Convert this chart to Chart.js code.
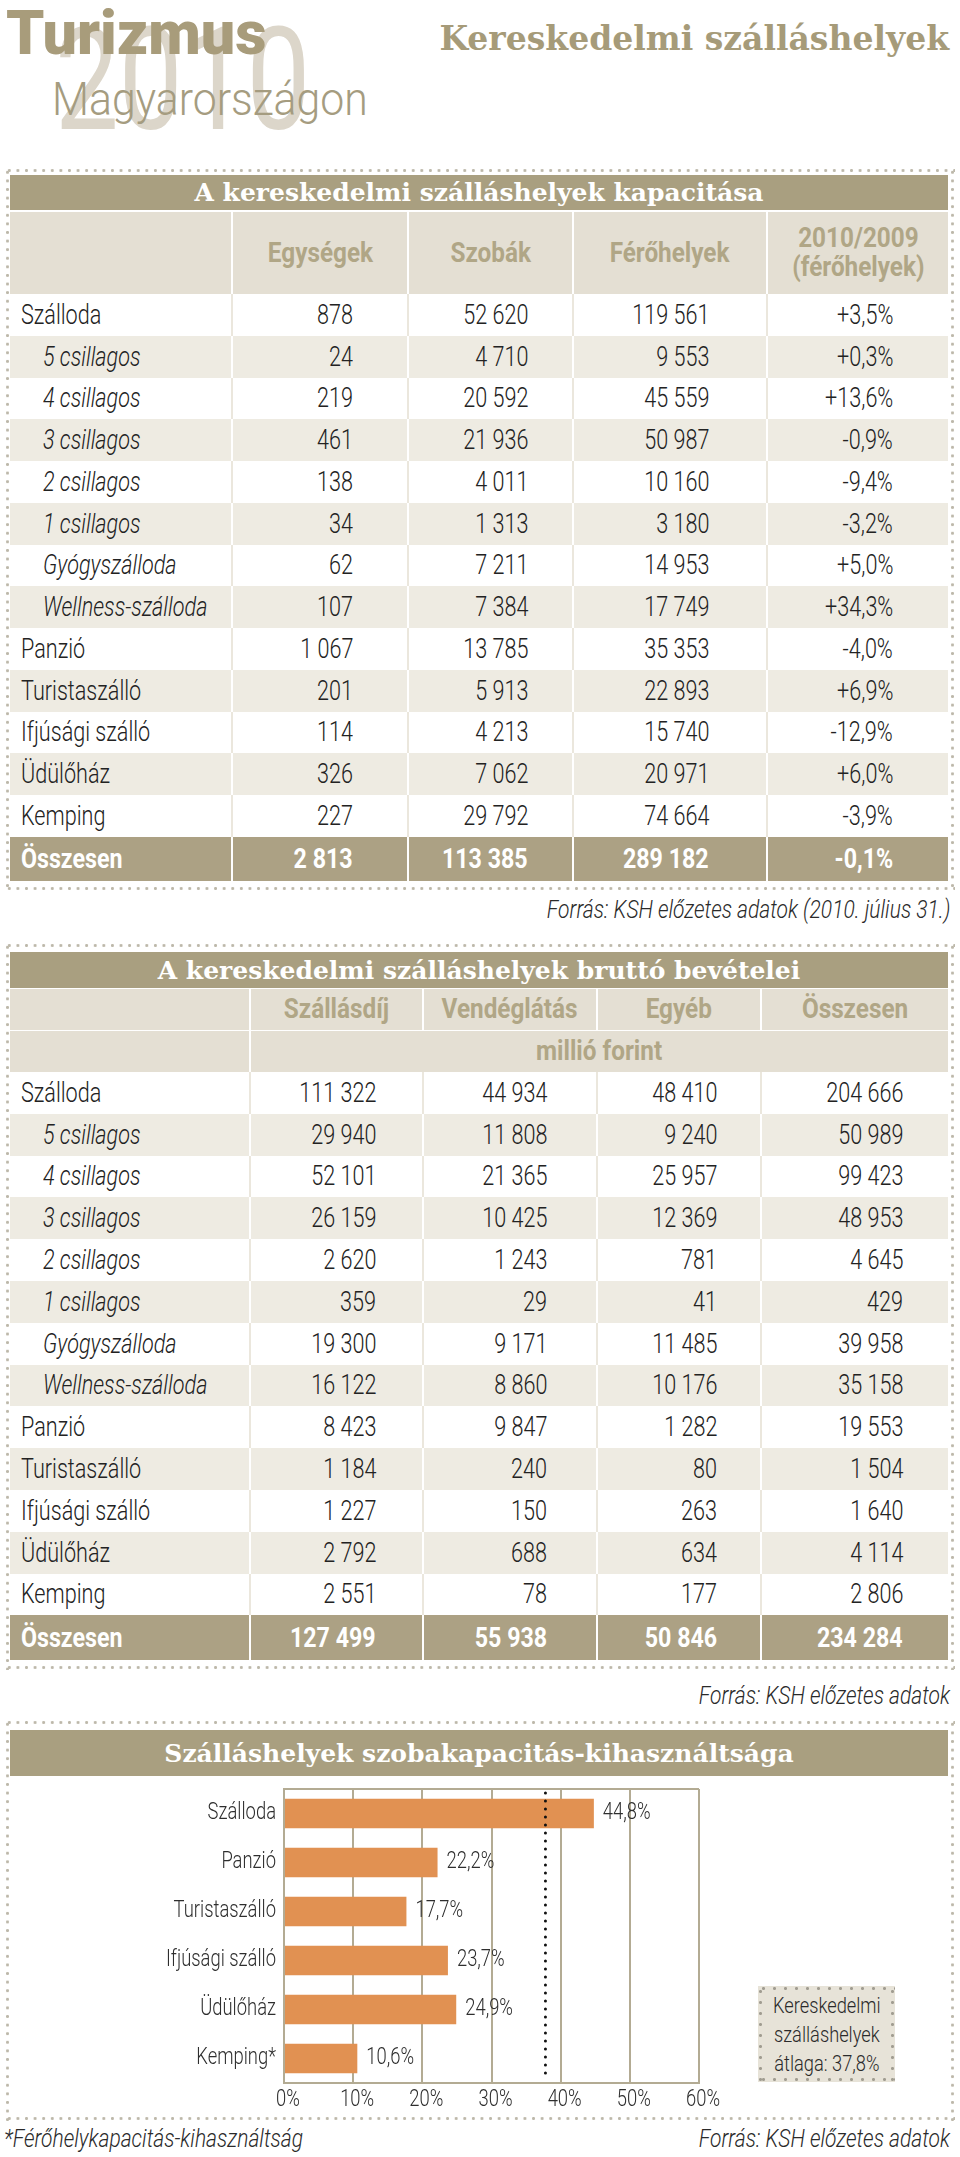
<!DOCTYPE html>
<html lang="hu">
<head>
<meta charset="utf-8">
<title>Turizmus 2010 – Kereskedelmi szálláshelyek</title>
<script src="https://cdn.jsdelivr.net/npm/chart.js@4.4.1/dist/chart.umd.min.js"></script>
<style>
  html, body { margin: 0; padding: 0; background: #fff; }
  body {
    width: 960px; height: 2157px; position: relative; overflow: hidden;
    font-family: Roboto, "Liberation Sans", sans-serif; font-weight: 300;
    color: #222;
  }
  .abs { position: absolute; white-space: nowrap; }
  .n { display: inline-block; transform-origin: var(--o, left) center; transform: scaleX(var(--sx, 0.8)); }
  .dots {
    position: absolute;
    --c: #bdb8aa; --s: 8.6px;
    background:
      radial-gradient(circle, var(--c) 1.2px, transparent 1.8px) left top / var(--s) 5px repeat-x,
      radial-gradient(circle, var(--c) 1.2px, transparent 1.8px) left bottom / var(--s) 5px repeat-x,
      radial-gradient(circle, var(--c) 1.2px, transparent 1.8px) left top / 5px var(--s) repeat-y,
      radial-gradient(circle, var(--c) 1.2px, transparent 1.8px) right top / 5px var(--s) repeat-y;
  }
  .band {
    position: absolute; left: 10px; width: 938px;
    background: #a99f80; color: #fff;
    font-family: "DejaVu Serif", serif; font-weight: bold; font-size: 25px;
    display: flex; align-items: center; justify-content: center;
  }
  .row { position: absolute; left: 10px; width: 938px; }
  .cell {
    position: absolute; top: 0; bottom: 0; box-sizing: border-box;
    display: flex; align-items: center; font-size: 27px; white-space: nowrap;
  }
  .cell.num { justify-content: flex-end; --o: right; }
  .cell + .cell { border-left: 2px solid var(--sep); }
  .r-white { background: #fff; --sep: #ebe7dd; }
  .r-beige { background: #eeebe2; --sep: #fff; }
  .r-total { background: #aca184; --sep: #fff; color: #fff; font-weight: bold; --sx: 0.86; }
  .r-head { background: #e4dfd3; --sep: #fff; color: #b0a686; font-weight: bold; --sx: 0.9; font-size: 26px; }
  .r-head .cell { justify-content: center; text-align: center; line-height: 29px; --o: center; }
  .forras { font-style: italic; font-size: 25px; color: #2a2a2a; --sx: 0.84; }
  #atlagDoboz {
    position: absolute; left: 758px; top: 1986px; width: 137px; height: 96px;
    background-color: #e7e3d8;
    --c: #a19d91; --s: 11px;
    display: flex; align-items: center; justify-content: center; text-align: center;
    font-size: 22px; line-height: 29px; color: #2a2a2a;
  }
</style>
</head>
<body>

<!-- fejléc -->
<div class="abs" style="left:55px; top:10px; font-weight:400; font-size:142px; line-height:1; color:#dcd6ca;"><span class="n" style="--sx:0.8">2010</span></div>
<div class="abs" style="left:6px; top:3px; font-weight:900; font-size:61px; line-height:1; color:#a89c7b;">Turizmus</div>
<div class="abs" style="left:52px; top:76px; font-size:46px; line-height:1; color:#a59c80;"><span class="n" style="--sx:0.93">Magyarországon</span></div>
<div class="abs" style="right:11px; top:22px; font-family:'DejaVu Serif',serif; font-weight:bold; font-size:33px; line-height:1; color:#a69b79;">Kereskedelmi szálláshelyek</div>

<div class="dots" style="left:4.5px; top:167.5px; width:950px; height:723px;"></div>
<div class="band" style="top:175px; height:35px;">A kereskedelmi szálláshelyek kapacitása</div>
<div class="abs forras" style="right:10px; top:895px; --o:right;"><span class="n">Forrás: KSH előzetes adatok (2010. július 31.)</span></div>

<div class="dots" style="left:4.5px; top:942.5px; width:950px; height:727px;"></div>
<div class="band" style="top:952px; height:36px;">A kereskedelmi szálláshelyek bruttó bevételei</div>
<div class="abs forras" style="right:10px; top:1681px; --o:right;"><span class="n">Forrás: KSH előzetes adatok</span></div>

<div class="dots" style="left:4.5px; top:1719.5px; width:950px; height:401px;"></div>
<div class="band" style="top:1730px; height:46px;">Szálláshelyek szobakapacitás-kihasználtsága</div>
<canvas id="kihasznaltsag" width="938" height="335" style="position:absolute; left:10px; top:1780px;"></canvas>
<div id="atlagDoboz" class="dots"></div>
<div class="abs forras" style="left:4px; top:2124px;"><span class="n">*Férőhelykapacitás-kihasználtság</span></div>
<div class="abs forras" style="right:10px; top:2124px; --o:right;"><span class="n">Forrás: KSH előzetes adatok</span></div>

<script>
// --- Adatok: szálláshelyek kapacitása ---
const kapSorok = ['Szálloda', '5 csillagos', '4 csillagos', '3 csillagos', '2 csillagos', '1 csillagos',
    'Gyógyszálloda', 'Wellness-szálloda', 'Panzió', 'Turistaszálló', 'Ifjúsági szálló', 'Üdülőház', 'Kemping'];
const alSorok = [false, true, true, true, true, true, true, true, false, false, false, false, false];
const kapFejlec = ['Egységek', 'Szobák', 'Férőhelyek', '2010/2009\n(férőhelyek)'];
const kapEgysegek = [878, 24, 219, 461, 138, 34, 62, 107, 1067, 201, 114, 326, 227];
const kapSzobak = [52620, 4710, 20592, 21936, 4011, 1313, 7211, 7384, 13785, 5913, 4213, 7062, 29792];
const kapFerohelyek = [119561, 9553, 45559, 50987, 10160, 3180, 14953, 17749, 35353, 22893, 15740, 20971, 74664];
const kapValtozas = [3.5, 0.3, 13.6, -0.9, -9.4, -3.2, 5.0, 34.3, -4.0, 6.9, -12.9, 6.0, -3.9];
const kapOsszesen = [2813, 113385, 289182, -0.1];

// --- Adatok: bruttó bevételek (millió forint) ---
const bevFejlec = ['Szállásdíj', 'Vendéglátás', 'Egyéb', 'Összesen'];
const bevSzallasdij = [111322, 29940, 52101, 26159, 2620, 359, 19300, 16122, 8423, 1184, 1227, 2792, 2551];
const bevVendeglatas = [44934, 11808, 21365, 10425, 1243, 29, 9171, 8860, 9847, 240, 150, 688, 78];
const bevEgyeb = [48410, 9240, 25957, 12369, 781, 41, 11485, 10176, 1282, 80, 263, 634, 177];
const bevOsszesen = [204666, 50989, 99423, 48953, 4645, 429, 39958, 35158, 19553, 1504, 1640, 4114, 2806];
const bevVegosszeg = [127499, 55938, 50846, 234284];

// --- Adatok: szobakapacitás-kihasználtság ---
const tipusok = ['Szálloda', 'Panzió', 'Turistaszálló', 'Ifjúsági szálló', 'Üdülőház', 'Kemping*'];
const kihasznaltsag = [44.8, 22.2, 17.7, 23.7, 24.9, 10.6];
const atlag = 37.8;
const tengelyMax = 60;
const tengelyLepes = 10;

// --- Formázás ---
function szam(n) {
    return String(n).replace(/\B(?=(\d{3})+(?!\d))/g, ' ');
}
function szazalek(v) {
    return v.toFixed(1).replace('.', ',') + '%';
}
function valtozas(v) {
    return (v > 0 ? '+' : '') + szazalek(v);
}

// --- Táblázat sorok ---
function sor(top, height, cols, texts, cls, pads, indent, italic) {
    const row = document.createElement('div');
    row.className = 'row ' + cls;
    row.style.top = top + 'px';
    row.style.height = height + 'px';
    texts.forEach((t, j) => {
        const c = document.createElement('div');
        c.className = 'cell' + (j ? ' num' : '');
        c.style.left = (cols[j] - cols[0]) + 'px';
        c.style.width = (cols[j + 1] - cols[j]) + 'px';
        if (pads) {
            if (j === 0) c.style.paddingLeft = indent + 'px';
            else c.style.paddingRight = pads[j - 1] + 'px';
        }
        if (j === 0 && italic) c.style.fontStyle = 'italic';
        const s = document.createElement('span');
        s.className = 'n';
        s.innerText = t;
        c.appendChild(s);
        row.appendChild(c);
    });
    document.body.appendChild(row);
}

// kapacitás táblázat
const kapCols = [10, 231, 407, 572, 766, 948];
const kapPad = [54, 44, 57, 55];
sor(212, 82, kapCols, [''].concat(kapFejlec), 'r-head');
kapSorok.forEach((nev, i) => {
    sor(294 + i * 41.75, 41.75, kapCols,
        [nev, szam(kapEgysegek[i]), szam(kapSzobak[i]), szam(kapFerohelyek[i]), valtozas(kapValtozas[i])],
        i % 2 ? 'r-beige' : 'r-white', kapPad, alSorok[i] ? 33 : 11, alSorok[i]);
});
sor(837, 44, kapCols,
    ['Összesen', szam(kapOsszesen[0]), szam(kapOsszesen[1]), szam(kapOsszesen[2]), valtozas(kapOsszesen[3])],
    'r-total', kapPad, 11, false);

// bevételek táblázat
const bevCols = [10, 249, 422, 596, 760, 948];
const bevPad = [46, 49, 43, 45];
sor(989, 41, bevCols, [''].concat(bevFejlec), 'r-head');
sor(1031, 41, [10, 249, 948], ['', 'millió forint'], 'r-head');
kapSorok.forEach((nev, i) => {
    sor(1072 + i * 41.8, 41.8, bevCols,
        [nev, szam(bevSzallasdij[i]), szam(bevVendeglatas[i]), szam(bevEgyeb[i]), szam(bevOsszesen[i])],
        i % 2 ? 'r-beige' : 'r-white', bevPad, alSorok[i] ? 33 : 11, alSorok[i]);
});
sor(1615, 45, bevCols,
    ['Összesen'].concat(bevVegosszeg.map(szam)),
    'r-total', bevPad, 11, false);

const doboz = document.createElement('span');
doboz.className = 'n';
doboz.style.setProperty('--o', 'center');
doboz.style.setProperty('--sx', '0.83');
doboz.innerText = 'Kereskedelmi\nszálláshelyek\nátlaga: ' + szazalek(atlag);
document.getElementById('atlagDoboz').appendChild(doboz);

// --- Grafikon ---
const racsSzin = '#b3ab93';
const betu = '300 23px Roboto, "Liberation Sans", sans-serif';
const szuk = 0.8; // keskeny betű imitálása

function keskenyIras(ctx, text, x, y, align) {
    ctx.save();
    ctx.translate(x, y);
    ctx.scale(szuk, 1);
    ctx.textAlign = align;
    ctx.fillText(text, 0, 0);
    ctx.restore();
}

const rajzPlugin = {
    id: 'rajz',
    beforeDatasetsDraw(chart) {
        const { ctx, chartArea } = chart;
        ctx.save();
        ctx.strokeStyle = racsSzin;
        ctx.lineWidth = 2;
        ctx.beginPath();
        ctx.moveTo(chartArea.left, chartArea.top);
        ctx.lineTo(chartArea.right, chartArea.top);
        ctx.stroke();
        ctx.restore();
    },
    afterDatasetsDraw(chart) {
        const { ctx, chartArea, scales } = chart;
        const meta = chart.getDatasetMeta(0);
        ctx.save();
        ctx.font = betu;
        ctx.fillStyle = '#2e2e2e';
        ctx.textBaseline = 'middle';
        // értékfeliratok
        meta.data.forEach((bar, i) => {
            keskenyIras(ctx, szazalek(kihasznaltsag[i]), bar.x + 9, bar.y, 'left');
        });
        // tengelyfeliratok a skálák pozícióival
        const yS = scales.y;
        yS.ticks.forEach((t, i) => {
            keskenyIras(ctx, yS.getLabelForValue(t.value), yS.right - 8, yS.getPixelForTick(i), 'right');
        });
        const xS = scales.x;
        xS.ticks.forEach((t, i) => {
            keskenyIras(ctx, t.value + '%', xS.getPixelForTick(i) + 4, xS.top + 17, 'center');
        });
        // átlag pontozott vonal
        const x = xS.getPixelForValue(atlag);
        ctx.strokeStyle = '#111';
        ctx.lineWidth = 3;
        ctx.lineCap = 'round';
        ctx.setLineDash([0, 8]);
        ctx.beginPath();
        ctx.moveTo(x, chartArea.top + 4);
        ctx.lineTo(x, chartArea.bottom - 8);
        ctx.stroke();
        ctx.restore();
    }
};

new Chart(document.getElementById('kihasznaltsag'), {
    type: 'bar',
    data: {
        labels: tipusok,
        datasets: [{
            data: kihasznaltsag,
            backgroundColor: '#e19152',
            borderWidth: 0,
            barPercentage: 0.6,
            categoryPercentage: 1
        }]
    },
    options: {
        indexAxis: 'y',
        responsive: false,
        animation: false,
        layout: { padding: { top: 9, right: 249, left: 0, bottom: 0 } },
        plugins: {
            legend: { display: false },
            tooltip: { enabled: false }
        },
        scales: {
            x: {
                min: 0,
                max: tengelyMax,
                ticks: { stepSize: tengelyLepes, display: false },
                grid: { color: racsSzin, lineWidth: 2, drawTicks: false },
                border: { color: racsSzin, width: 2 },
                afterFit: s => { s.height = 32; }
            },
            y: {
                ticks: { display: false },
                grid: { display: false },
                border: { color: racsSzin, width: 2 },
                afterFit: s => { s.width = 274; }
            }
        }
    },
    plugins: [rajzPlugin]
});
</script>
</body>
</html>
